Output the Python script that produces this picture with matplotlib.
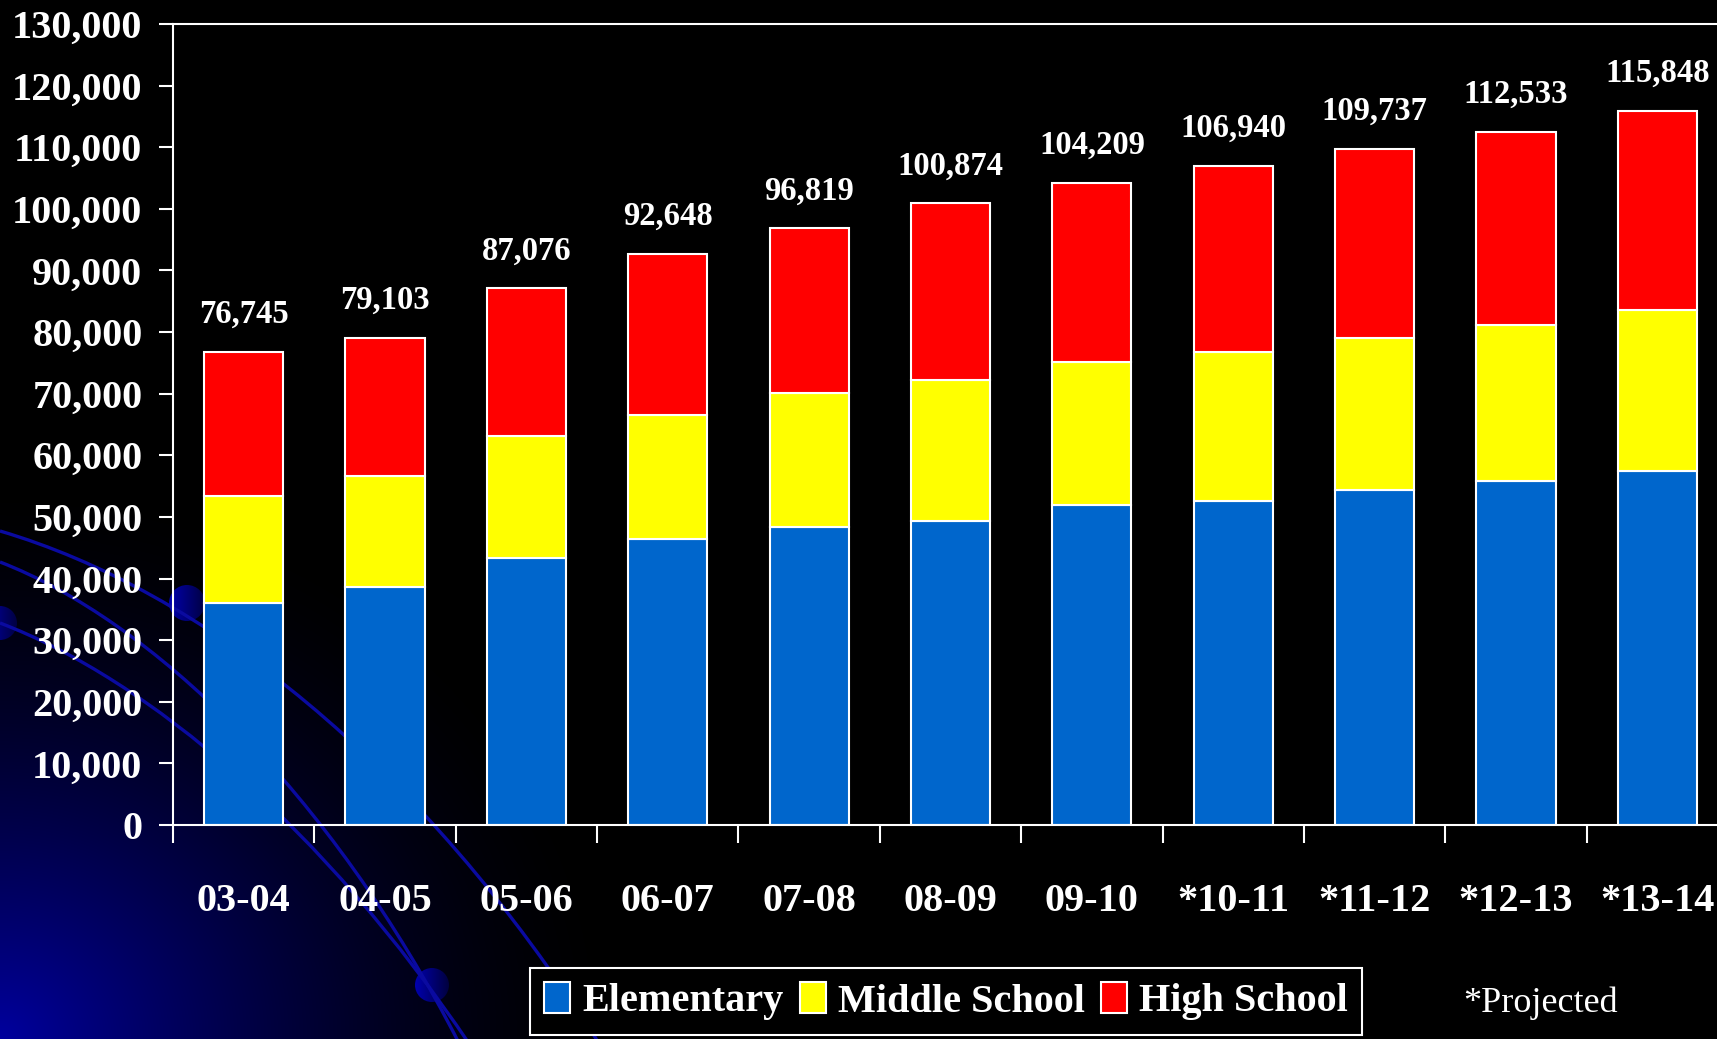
import numpy as np
import matplotlib
matplotlib.use('Agg')
import matplotlib.pyplot as plt
from matplotlib.path import Path
from matplotlib.patches import PathPatch, Circle
from matplotlib.ticker import FuncFormatter

plt.rcParams['font.family'] = ['Liberation Serif', 'DejaVu Serif']
plt.rcParams['font.weight'] = 'bold'

# enrollment by school year (students)
years = ['03-04', '04-05', '05-06', '06-07', '07-08', '08-09', '09-10',
         '*10-11', '*11-12', '*12-13', '*13-14']
totals = [76745, 79103, 87076, 92648, 96819, 100874, 104209,
          106940, 109737, 112533, 115848]
elementary = [36100, 38600, 43400, 46400, 48400, 49400, 51900,
              52600, 54400, 55800, 57400]
middle = [17300, 18100, 19700, 20100, 21700, 22800, 23300,
          24200, 24600, 25300, 26200]
high = [t - e - m for t, e, m in zip(totals, elementary, middle)]

W, H = 1717, 1039
fig = plt.figure(figsize=(W / 100, H / 100), dpi=100, facecolor='black')

# ---- slide background: blue glow in the lower left corner plus swooshes
bg = fig.add_axes([0, 0, 1, 1], zorder=0)
xx, yy = np.meshgrid(np.arange(W) + 0.5, np.arange(H) + 0.5)
r = np.sqrt((xx / 620) ** 2 + ((H - yy) / 560) ** 2)
glow = np.clip(1 - r, 0, 1) ** 1.6
img = np.zeros((H, W, 3))
img[..., 2] = 0.62 * glow
bg.imshow(img, extent=(0, W, H, 0), aspect='auto', interpolation='bilinear')
bg.axis('off')

swooshes = [
    [(0, 531), (200, 590), (420, 760), (600, 1045)],
    [(0, 562), (150, 620), (330, 790), (460, 1045)],
    [(0, 623), (150, 680), (325, 830), (470, 1045)],
]
codes = [Path.MOVETO, Path.CURVE4, Path.CURVE4, Path.CURVE4]
for pts in swooshes:
    bg.add_patch(PathPatch(Path(pts, codes), fc='none', ec='#0a0aa0',
                           lw=2.4))

# little shaded beads sitting on the swooshes
shade = np.linspace(0.68, 0.25, 64)[None, :, None] * np.array([0, 0, 1.0])
shade = np.repeat(shade, 64, axis=0)
for cx, cy, rad in [(187, 603, 18), (432, 985, 17), (0, 623, 17)]:
    disc = Circle((cx, cy), rad, transform=bg.transData)
    im = bg.imshow(shade, extent=(cx - rad, cx + rad, cy + rad, cy - rad),
                   aspect='auto', interpolation='bilinear')
    im.set_clip_path(disc)
bg.set_xlim(0, W)
bg.set_ylim(H, 0)

# ---- stacked bars
ax = fig.add_axes([173 / W, 1 - 825 / H, 1555 / W, (825 - 24) / H], zorder=1)
ax.set_facecolor('none')

x = np.arange(len(years))
bw = 0.56
b1 = ax.bar(x, elementary, bw, color='#0066cc', edgecolor='white', lw=1.5)
b2 = ax.bar(x, middle, bw, bottom=elementary, color='#ffff00',
            edgecolor='white', lw=1.5)
b3 = ax.bar(x, high, bw, bottom=np.add(elementary, middle), color='#ff0000',
            edgecolor='white', lw=1.5)

for xi, t in zip(x, totals):
    ax.annotate(f'{t:,}', (xi, t), xytext=(0, 27), textcoords='offset points',
                ha='center', va='center', color='white', fontsize=23.5,
                fontweight='bold')

ax.set_xlim(-0.5, len(years) - 0.5)
ax.set_ylim(0, 130000)
ax.set_yticks(range(0, 130001, 10000))
ax.yaxis.set_major_formatter(FuncFormatter(lambda v, p: f'{int(v):,}'))
ax.tick_params(axis='y', colors='white', labelcolor='white', length=10,
               width=1.5, pad=12, labelsize=29)

ax.set_xticks(x, years)
ax.set_xticks(np.arange(-0.5, len(years), 1), minor=True)
ax.tick_params(axis='x', which='major', length=0, pad=42, labelsize=29,
               labelcolor='white')
ax.tick_params(axis='x', which='minor', length=13, width=1.5, color='white')

for s in ax.spines.values():
    s.set_color('white')
    s.set_linewidth(1.5)

leg = fig.legend([b1, b2, b3], ['Elementary', 'Middle School', 'High School'],
                 loc='upper left', bbox_to_anchor=(530 / W, 1 - 968 / H),
                 ncol=3, frameon=True, facecolor='black', edgecolor='white',
                 framealpha=1, fancybox=False, fontsize=29,
                 handlelength=0.65, handleheight=0.8, handletextpad=0.3,
                 columnspacing=0.4, borderpad=0.35, borderaxespad=0,
                 labelcolor='white')
leg.get_frame().set_linewidth(1.5)

fig.text(1541 / W, 1 - 1003 / H, '*Projected', color='white', fontsize=26,
         fontweight='normal', ha='center', va='center')

fig.savefig('out.png', dpi=100, facecolor='black')
